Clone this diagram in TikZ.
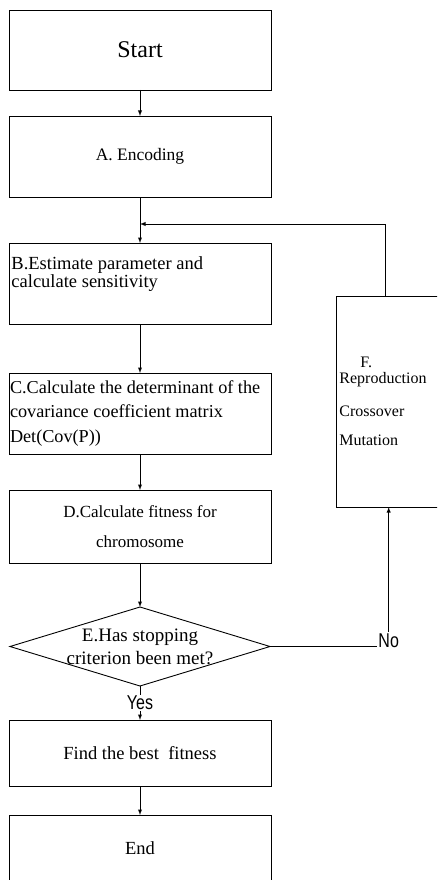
\documentclass[tikz,border=0pt]{standalone}
\usepackage{fontspec}
\setmainfont{Liberation Serif}
\newfontfamily\tagfont{Liberation Sans}
\usetikzlibrary{positioning,arrows,shapes.geometric}
\newcommand{\narrowtag}[1]{\scalebox{0.8}[1]{#1}}
\tikzset{
  block/.style={
    draw,
    rectangle,
    minimum height=81pt,
    minimum width=262pt,
    inner sep=2pt,
    outer sep=0pt,
    align=center,
    font=\fontsize{18.5}{22}\selectfont
  },
  decision/.style={
    draw,
    diamond,
    minimum height=79pt,
    minimum width=260pt,
    inner sep=0pt,
    outer sep=0pt
  },
  line/.style={->,>=latex},
  tag/.style={inner sep=1pt,font=\tagfont\fontsize{20}{20}\selectfont},
  ftext/.style={anchor=base west,inner sep=0pt,font=\fontsize{16}{16}\selectfont}
}

\begin{document}
\begin{tikzpicture}[x=1pt,y=-1pt,line width=0.9pt]

	\clip (0,0) rectangle (437,880);

	\node[block, minimum height=80pt, font=\fontsize{24}{28}\selectfont] (start) at (140,50) {Start};

	\node[block, below = 26pt of start, font=\fontsize{17.5}{22}\selectfont] (encoding) {A. Encoding};
	\draw[line] (start) -- (encoding);

	% B. estimate
	\node[block, below = 46pt of encoding] (estimate) {};
	\node[anchor=north west, inner sep=0pt, align=left, font=\fontsize{18.5}{18}\selectfont] (estimate_text) at ([xshift=2pt,yshift=-13pt]estimate.north west) {B.Estimate parameter and\\calculate sensitivity};
	\coordinate (merge) at (140,224);
	\draw[line] (encoding) -- (estimate);

	% C. determinant
	\node[block, below = 49pt of estimate, text width=260pt, inner xsep=1pt, align=flush left, font=\fontsize{18.2}{24.5}\selectfont] (determinant) {C.Calculate the determinant of the\\covariance coefficient matrix\\Det(Cov(P))};
	\draw[line] (estimate) -- (determinant);

	% D. fitness
	\node[block, below = 36pt of determinant, minimum height=73pt, font=\fontsize{17}{30}\selectfont] (fitness) {D.Calculate fitness for\\chromosome};
	\draw[line] (determinant) -- (fitness);

	% E. check
	\node[decision, below = 44pt of fitness] (check) {};
	\node[align=center, inner sep=0pt, font=\fontsize{19}{23}\selectfont] (check_text) at (check) {E.Has stopping\\criterion been met?};
	\draw[line] (fitness) -- (check);

	\node[block, below = 34pt of check, minimum height=66pt] (best) {Find the best\ \ fitness};
	\draw[line] (check) -- node[tag, fill=white] (yes_label) {\narrowtag{Yes}} (best);

	\node[block, below = 29pt of best, minimum height=66pt] (finish) {End};
	\draw[line] (best) -- (finish);

	% F. reproduction
	\node[block, minimum width=114pt, minimum height=211pt] (reproduce) at (393,401.5) {};
	\node[ftext] (f_label) at (360,367) {F.};
	\node[ftext] (repro_text) at (339,383) {Reproduction};
	\node[ftext] (cross_text) at (339,416) {Crossover};
	\node[ftext] (mut_text) at (339,445) {Mutation};

	\node[tag, anchor=base west] (no_label) at (377,647) {\narrowtag{No}};
	\draw (check.east) -- (check.east -| no_label.west);
	\draw[line] (no_label.north) -- (no_label.north |- reproduce.south);

	\coordinate (loop_top) at (385,224);
	\draw[line] (reproduce.north -| loop_top) |- (merge);

\end{tikzpicture}
\end{document}
